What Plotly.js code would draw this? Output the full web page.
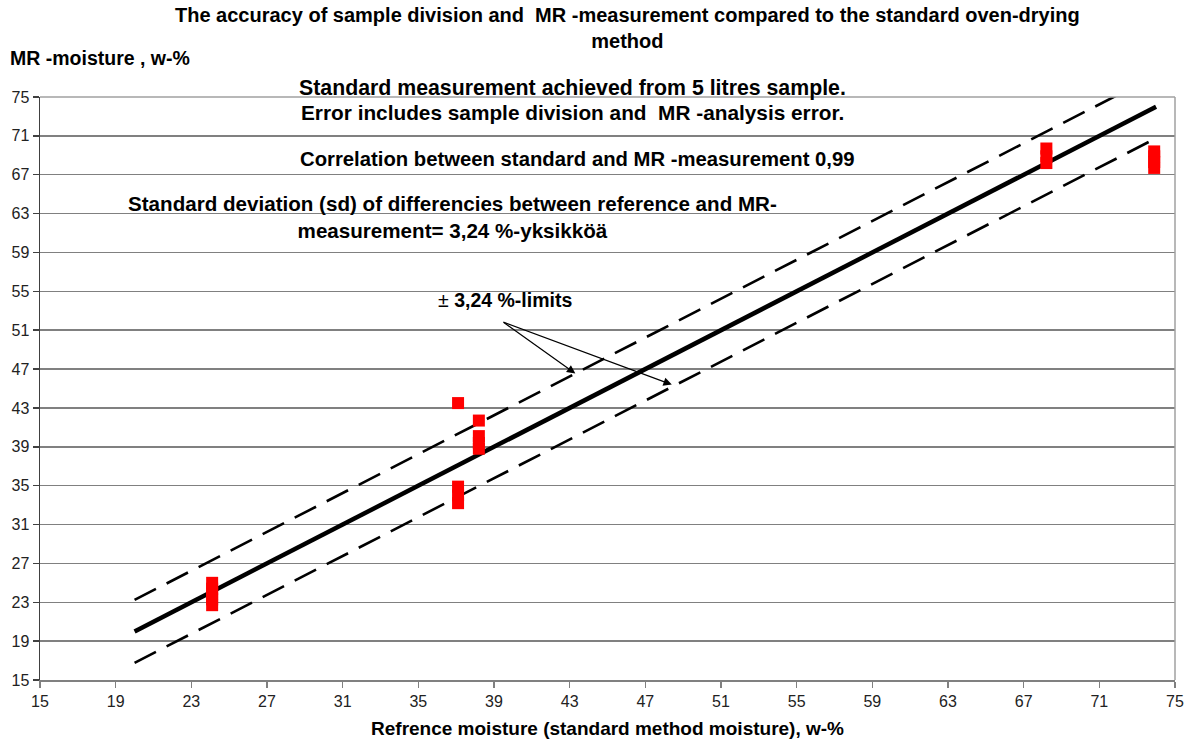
<!DOCTYPE html>
<html>
<head>
<meta charset="utf-8">
<script src="https://cdn.plot.ly/plotly-3.0.1.min.js"></script>
<style>html,body{margin:0;padding:0;background:#fff;}#chart{width:1199px;height:746px;}</style>
</head>
<body>
<div id="chart"></div>
<script>
// Measured points: reference moisture (x) vs MR moisture (y)
var refMoisture = [24.1, 24.1, 24.1, 24.1, 24.1,
                   37.1, 37.1, 37.1, 37.1,
                   38.2, 38.2, 38.2, 38.2,
                   68.2, 68.2, 68.2,
                   73.9, 73.9, 73.9, 73.9];
var mrMoisture  = [22.7, 23.3, 23.9, 24.4, 25.0,
                   43.5, 33.2, 34.0, 34.9,
                   41.7, 38.8, 39.4, 40.1,
                   68.2, 68.9, 69.7,
                   67.7, 68.3, 68.9, 69.4];
// Reference line (1:1) and +/- sd limits
var lineX = [20, 74];
var lineY = [20, 74];
var sd = 3.24;
var upperY = lineY.map(function (v) { return v + sd; });
var lowerY = lineY.map(function (v) { return v - sd; });
var tickVals = [15, 19, 23, 27, 31, 35, 39, 43, 47, 51, 55, 59, 63, 67, 71, 75];

var FONT = 'Liberation Sans, Arial, sans-serif';

var traces = [
  {x: lineX, y: upperY, mode: 'lines', line: {color: '#000', width: 2.6, dash: '24px,12px'}, hoverinfo: 'skip'},
  {x: lineX, y: lowerY, mode: 'lines', line: {color: '#000', width: 2.6, dash: '24px,12px'}, hoverinfo: 'skip'},
  {x: lineX, y: lineY, mode: 'lines', line: {color: '#000', width: 4.5}, hoverinfo: 'skip'},
  {x: refMoisture, y: mrMoisture, mode: 'markers', marker: {symbol: 'square', size: 12, color: '#ff0000', line: {width: 0}}}
];

var ann = function (text, x, y, size, extra) {
  var a = {text: text, x: x, y: y, xref: 'paper', yref: 'paper', showarrow: false,
           font: {family: FONT, size: size, color: '#000'}, xanchor: 'center', yanchor: 'middle'};
  for (var k in extra) a[k] = extra[k];
  return a;
};

var layout = {
  width: 1199, height: 746,
  margin: {l: 40, r: 24, t: 97, b: 66},
  paper_bgcolor: '#fff', plot_bgcolor: '#fff',
  showlegend: false,
  xaxis: {
    range: [15, 75], tickvals: tickVals, ticktext: tickVals.map(String),
    showgrid: false, zeroline: false,
    showline: true, linecolor: '#808080', linewidth: 2, mirror: false,
    ticks: 'outside', ticklen: 6, tickcolor: '#808080', tickwidth: 1.5,
    tickfont: {family: FONT, size: 16, color: '#222'},
    title: {text: '<b>Refrence moisture (standard method moisture), w-%</b>', standoff: 12,
            font: {family: FONT, size: 19, color: '#000'}}
  },
  yaxis: {
    range: [15, 75], tickvals: tickVals, ticktext: tickVals.map(String),
    showgrid: true, gridcolor: '#808080', gridwidth: 1.5, zeroline: false,
    showline: true, linecolor: '#404040', linewidth: 1.5,
    ticks: 'outside', ticklen: 6, tickcolor: '#404040', tickwidth: 1.5,
    tickfont: {family: FONT, size: 16, color: '#222'}
  },
  shapes: [
    {type: 'line', xref: 'paper', yref: 'paper', x0: 1, x1: 1, y0: 0, y1: 1, line: {color: '#a0a0a0', width: 1.5}},
    {type: 'line', xref: 'paper', yref: 'paper', x0: 0, x1: 1, y0: 1, y1: 1, line: {color: '#a0a0a0', width: 1.5}}
  ],
  annotations: [
    ann('<b>The accuracy of sample division and  MR -measurement compared to the standard oven-drying<br>method</b>', 0.518, 1.1184, 20),
    ann('<b>MR -moisture , w-%</b>', -0.0285, 1.067, 19.5, {xanchor: 'left'}),
    ann('<b>Standard measurement achieved from 5 litres sample.</b>', 0.469, 1.0154, 21.3),
    ann('<b>Error includes sample division and  MR -analysis error.</b>', 0.469, 0.974, 20.8),
    ann('<b>Correlation between standard and MR -measurement 0,99</b>', 0.227, 0.894, 20.3, {xanchor: 'left'}),
    ann('<b>Standard deviation (sd) of differencies between reference and MR-<br>measurement= 3,24 %-yksikköä</b>', 0.363, 0.794, 20.6),
    ann('± <b>3,24 %-limits</b>', 0.349, 0.652, 19.5, {xanchor: 'left'}),
    {x: 43.3, y: 46.55, xref: 'x', yref: 'y', ax: -73, ay: -52, axref: 'pixel', ayref: 'pixel',
     text: '', showarrow: true, arrowhead: 2, arrowsize: 1.4, arrowwidth: 1.2, arrowcolor: '#000'},
    {x: 48.4, y: 45.4, xref: 'x', yref: 'y', ax: -170, ay: -63, axref: 'pixel', ayref: 'pixel',
     text: '', showarrow: true, arrowhead: 2, arrowsize: 1.4, arrowwidth: 1.2, arrowcolor: '#000'}
  ]
};

Plotly.newPlot('chart', traces, layout, {displayModeBar: false, staticPlot: true});
</script>
</body>
</html>
